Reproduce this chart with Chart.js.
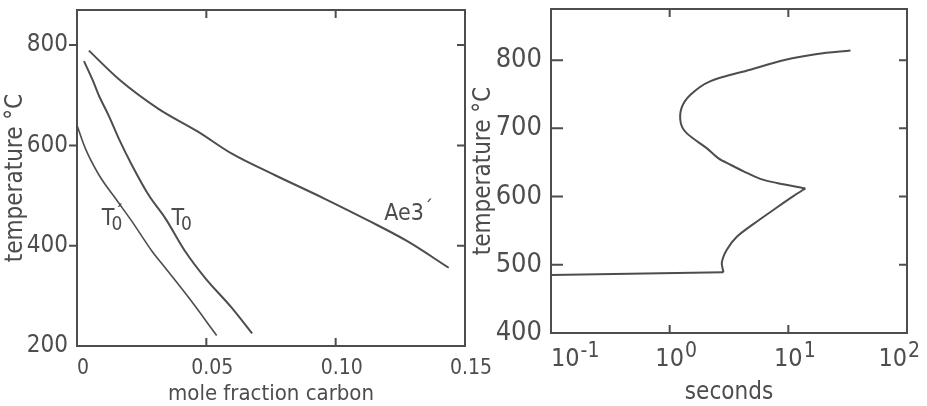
<!DOCTYPE html>
<html>
<head>
<meta charset="utf-8">
<script src="https://cdn.jsdelivr.net/npm/chart.js@4.4.1/dist/chart.umd.min.js"></script>
<style>
  html, body { margin: 0; padding: 0; background: #fff; }
  #wrap { position: relative; width: 927px; height: 406px; overflow: hidden; }
  canvas { position: absolute; top: 0; }
  #leftChart { left: 0; }
  #rightChart { left: 460px; }
</style>
</head>
<body>
<div id="wrap">
  <canvas id="leftChart" width="500" height="406"></canvas>
  <canvas id="rightChart" width="467" height="406"></canvas>
</div>
<script>
// ---- left panel: temperature vs mole fraction carbon ----
const ae3X = [0.0046, 0.0162, 0.0315, 0.0469, 0.0597, 0.0764, 0.0956, 0.1123, 0.1277, 0.1437];
const ae3T = [789, 732, 673, 627, 584, 541, 494, 451, 409, 356];
const t0X = [0.0027, 0.0059, 0.0085, 0.0123, 0.0162, 0.0213, 0.0277, 0.0341, 0.0418, 0.0495, 0.0597, 0.0677];
const t0T = [768, 732, 699, 659, 613, 560, 501, 455, 389, 336, 277, 225];
const t0pX = [0, 0.0033, 0.0085, 0.0149, 0.0213, 0.029, 0.0341, 0.0431, 0.054];
const t0pT = [640, 593, 541, 494, 448, 389, 356, 297, 221];
const leftXTicks = [0, 0.05, 0.10, 0.15];
const leftXLabels = ['0', '0.05', '0.10', '0.15'];
const leftYTicks = [200, 400, 600, 800];
const noteText = ['T', 'T', 'Ae3'];
const noteSub = ['0', '0', ''];
const notePrime = [true, false, true];
const noteX = [0.0096, 0.0365, 0.1188];
const noteT = [441, 441, 451];

// ---- right panel: temperature vs seconds (three strokes: base, lower limb, upper limb) ----
const baseSec = [0.1, 2.84];
const baseT = [485, 489];
const lowSec = [2.84, 2.75, 3.03, 3.68, 5.1, 8.0, 11.1, 13.9];
const lowT = [489, 503, 522, 541, 560, 584, 601, 612];
const upSec = [13.9, 8.0, 5.8, 4.2, 3.23, 2.58, 2.05, 1.39, 1.24, 1.26, 1.49, 2.19, 4.77, 9.1, 17.5, 33.4];
const upT = [612, 620, 626, 637, 647, 656, 671, 693, 708, 730, 749, 769, 786, 800, 809, 814];
const rightXTicks = [0.1, 1, 10, 100];
const rightXExp = ['-1', '0', '1', '2'];
const rightYTicks = [400, 500, 600, 700, 800];

const INK = '#4d4d4d';
const FONT = '"DejaVu Sans Condensed", "DejaVu Sans", sans-serif';

const pts = (xs, ys) => xs.map((x, i) => ({ x: x, y: ys[i] }));

const curve = (xs, ys, w, tension, mode) => ({
  data: pts(xs, ys),
  showLine: true,
  borderColor: INK,
  borderWidth: w,
  pointRadius: 0,
  tension: tension,
  cubicInterpolationMode: mode || 'default',
  fill: false
});

// fixed axis box sizes, no label overflow padding
const fixBox = (w, h) => s => {
  if (w !== null) s.width = w;
  if (h !== null) s.height = h;
  s.paddingTop = 0; s.paddingBottom = 0; s.paddingLeft = 0; s.paddingRight = 0;
};

// tick marks on the frame + text notes, placed through the scales
const frameMarks = {
  id: 'frameMarks',
  afterDraw(chart, args, o) {
    const { ctx, chartArea: a } = chart;
    const sx = chart.scales.x, sy = chart.scales.y;
    ctx.save();
    ctx.strokeStyle = INK;
    ctx.lineWidth = 2;
    ctx.beginPath();
    o.bottom.forEach(v => { const p = sx.getPixelForValue(v); ctx.moveTo(p, a.bottom); ctx.lineTo(p, a.bottom - o.len); });
    o.top.forEach(v => { const p = sx.getPixelForValue(v); ctx.moveTo(p, a.top); ctx.lineTo(p, a.top + o.len); });
    o.left.forEach(v => { const p = sy.getPixelForValue(v); ctx.moveTo(a.left, p); ctx.lineTo(a.left + o.leftDir * o.leftLen, p); });
    o.right.forEach(v => { const p = sy.getPixelForValue(v); ctx.moveTo(a.right, p); ctx.lineTo(a.right - o.len, p); });
    ctx.stroke();

    ctx.fillStyle = INK;
    ctx.textAlign = 'left';
    ctx.textBaseline = 'alphabetic';
    (o.notes || []).forEach(n => {
      const px = sx.getPixelForValue(n.x), py = sy.getPixelForValue(n.y);
      ctx.font = '23px ' + FONT;
      ctx.fillText(n.text, px, py);
      const w = ctx.measureText(n.text).width;
      if (n.sub) {
        ctx.font = '19px ' + FONT;
        ctx.fillText(n.sub, px + w - 3, py + 5);
      }
      if (n.prime) {
        ctx.font = '20px ' + FONT;
        ctx.fillText('\u00b4', px + w, py - 6);
      }
    });

    // exponents after the "10" tick labels (first label left-aligned, last right-aligned)
    if (o.exps) {
      ctx.font = sx.options.ticks.font.size + 'px ' + FONT;
      const base = ctx.measureText('10').width;
      ctx.font = '21px ' + FONT;
      o.exps.forEach((e, i) => {
        const px = sx.getPixelForValue(e.v);
        const shift = i === 0 ? base : (i === o.exps.length - 1 ? 0 : base / 2);
        ctx.fillText(e.t, px + shift + 1, a.bottom + 24);
      });
    }
    ctx.restore();
  }
};

const frameAxis = (pos, type, min, max, fit) => ({
  type: type, position: pos, min: min, max: max, display: true,
  grid: { display: false, drawTicks: false },
  ticks: { display: false },
  border: { display: true, color: INK, width: 2 },
  afterFit: fit
});

new Chart(document.getElementById('leftChart'), {
  type: 'scatter',
  data: {
    datasets: [
      curve(ae3X, ae3T, 2, 0.4, 'monotone'),
      curve(t0X, t0T, 2, 0.4, 'monotone'),
      curve(t0pX, t0pT, 1.6, 0.4, 'monotone')
    ]
  },
  options: {
    responsive: false,
    animation: false,
    layout: { autoPadding: false, padding: { top: 10, right: 35, bottom: 0, left: 0 } },
    plugins: {
      legend: { display: false },
      tooltip: { enabled: false },
      frameMarks: {
        len: 8, leftLen: 8, leftDir: -1,
        bottom: [0.05, 0.10], top: [0.05, 0.10],
        left: [400, 600, 800], right: [400, 600, 800],
        notes: noteText.map((t, i) => ({ text: t, sub: noteSub[i], prime: notePrime[i], x: noteX[i], y: noteT[i] }))
      }
    },
    scales: {
      x: {
        type: 'linear', min: 0, max: 0.15,
        afterBuildTicks: s => { s.ticks = leftXTicks.map(v => ({ value: v })); },
        afterFit: fixBox(null, 60),
        grid: { display: false, drawTicks: false },
        border: { display: true, color: INK, width: 2 },
        ticks: {
          color: INK, font: { family: FONT, size: 21 }, padding: 10, labelOffset: 6,
          maxRotation: 0, autoSkip: false,
          callback: (v, i) => leftXLabels[i]
        },
        title: { display: true, text: 'mole fraction carbon', color: INK, font: { family: FONT, size: 22, lineHeight: 1.1 }, padding: 0 }
      },
      y: {
        type: 'linear', min: 200, max: 870,
        afterBuildTicks: s => { s.ticks = leftYTicks.map(v => ({ value: v })); },
        afterFit: fixBox(77, null),
        grid: { display: false, drawTicks: false },
        border: { display: true, color: INK, width: 2 },
        ticks: { color: INK, font: { family: FONT, size: 24 }, padding: 9, autoSkip: false },
        title: { display: true, text: 'temperature \u00b0C', color: INK, font: { family: FONT, size: 24, lineHeight: 1.1 }, padding: { top: 3 } }
      },
      x2: frameAxis('top', 'linear', 0, 0.15, fixBox(null, 0)),
      y2: frameAxis('right', 'linear', 200, 870, fixBox(0, null))
    }
  },
  plugins: [frameMarks]
});

new Chart(document.getElementById('rightChart'), {
  type: 'scatter',
  data: {
    datasets: [
      curve(baseSec, baseT, 2, 0),
      curve(lowSec, lowT, 2, 0.3),
      curve(upSec, upT, 2, 0.3)
    ]
  },
  options: {
    responsive: false,
    animation: false,
    layout: { autoPadding: false, padding: { top: 9, right: 20, bottom: 0, left: 0 } },
    plugins: {
      legend: { display: false },
      tooltip: { enabled: false },
      frameMarks: {
        len: 8, leftLen: 12, leftDir: 1,
        bottom: [1, 10], top: [1, 10],
        left: [500, 600, 700, 800], right: [500, 600, 700, 800],
        exps: rightXTicks.map((v, i) => ({ v: v, t: rightXExp[i] }))
      }
    },
    scales: {
      x: {
        type: 'logarithmic', min: 0.1, max: 100,
        afterBuildTicks: s => { s.ticks = rightXTicks.map(v => ({ value: v })); },
        afterFit: fixBox(null, 73),
        grid: { display: false, drawTicks: false },
        border: { display: true, color: INK, width: 2 },
        ticks: {
          color: INK, font: { family: FONT, size: 25 }, padding: 11, align: 'inner',
          maxRotation: 0, autoSkip: false,
          callback: () => '10'
        },
        title: { display: true, text: 'seconds', color: INK, font: { family: FONT, size: 24, lineHeight: 1.1 }, padding: 0 }
      },
      y: {
        type: 'linear', min: 400, max: 875,
        afterBuildTicks: s => { s.ticks = rightYTicks.map(v => ({ value: v })); },
        afterFit: fixBox(91, null),
        grid: { display: false, drawTicks: false },
        border: { display: true, color: INK, width: 2 },
        ticks: { color: INK, font: { family: FONT, size: 27 }, padding: 9, autoSkip: false },
        title: { display: true, text: 'temperature \u00b0C', color: INK, font: { family: FONT, size: 24, lineHeight: 1.1 }, padding: { top: 11 } }
      },
      x2: frameAxis('top', 'logarithmic', 0.1, 100, fixBox(null, 0)),
      y2: frameAxis('right', 'linear', 400, 875, fixBox(0, null))
    }
  },
  plugins: [frameMarks]
});
</script>
</body>
</html>
